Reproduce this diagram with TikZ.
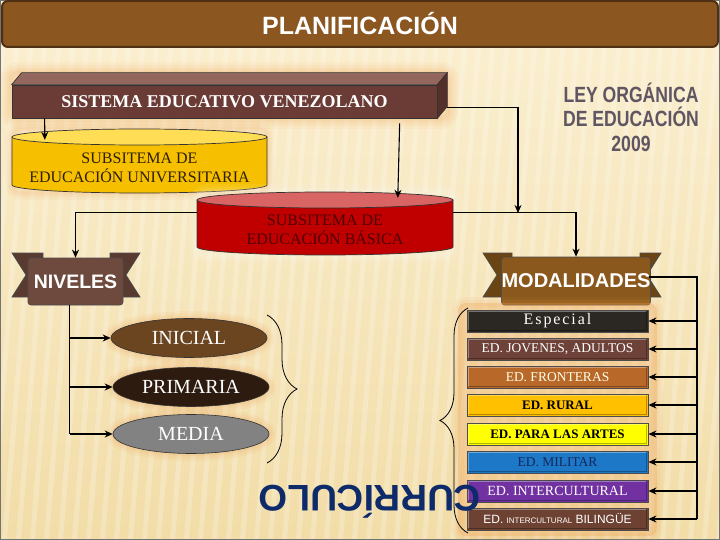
\documentclass[tikz,border=0pt]{standalone}
\usepackage{fontspec}
\setmainfont{Liberation Serif}
\newfontfamily\sansf{Liberation Sans}
\usetikzlibrary{shapes.geometric,arrows.meta,decorations.pathreplacing,calc}
\definecolor{bgtop}{HTML}{FBF0D2}
\definecolor{bgbot}{HTML}{F2DDA8}
\definecolor{titlec}{HTML}{8B5620}
\definecolor{titleb}{HTML}{4E3014}
\definecolor{sisfront}{HTML}{6B3B35}
\definecolor{sistop}{HTML}{93675D}
\definecolor{sisside}{HTML}{54302A}
\definecolor{gold}{HTML}{F6C000}
\definecolor{goldtop}{HTML}{FFDD55}
\definecolor{unitxt}{HTML}{2E1E05}
\definecolor{redb}{HTML}{C00000}
\definecolor{redtop}{HTML}{D86464}
\definecolor{redtxt}{HTML}{4E0000}
\definecolor{leyc}{HTML}{5F5563}
\definecolor{nivf}{HTML}{6E4A3E}
\definecolor{nivt}{HTML}{583A30}
\definecolor{modf}{HTML}{8A581C}
\definecolor{modt}{HTML}{6B4414}
\definecolor{inic}{HTML}{6B4420}
\definecolor{prim}{HTML}{2C1B0E}
\definecolor{medc}{HTML}{828282}
\definecolor{glowc}{HTML}{F0A050}
\definecolor{b1}{HTML}{2B2722}
\definecolor{b2}{HTML}{6E4238}
\definecolor{b3}{HTML}{B8692A}
\definecolor{b4}{HTML}{FFC000}
\definecolor{b5}{HTML}{FFFF00}
\definecolor{b6}{HTML}{1E78C8}
\definecolor{b7}{HTML}{7231A0}
\definecolor{b8}{HTML}{6E4232}
\definecolor{navy}{HTML}{0D2A6B}
\definecolor{miltxt}{HTML}{14285A}
\begin{document}
\begin{tikzpicture}[x=1pt,y=-1pt,
 arr/.style={-{Stealth[length=8pt,width=7pt]}, line width=1.1pt},
 ln/.style={line width=1.1pt},
 edge3d/.style={draw=black!80, line width=0.7pt},
 bar/.style={rectangle, minimum width=181pt, minimum height=22pt, inner sep=0pt, draw=black!70, line width=0.8pt},
 lvl/.style={ellipse, inner sep=0pt, minimum width=156pt, minimum height=39pt, draw=black!80, line width=0.6pt, text=white, font=\fontsize{20}{20}\selectfont},
 ribtxt/.style={text=white, font=\sansf\bfseries\fontsize{20}{20}\selectfont},
]
\useasboundingbox (0,0) rectangle (720,540);
% background
\shade[top color=bgtop, bottom color=bgbot] (0,0) rectangle (720,540);
\foreach \x in {0,14,...,770} \fill[white,opacity=0.22] (\x,48) -- (\x+5,48) -- (\x-35,540) -- (\x-40,540) -- cycle;
\draw[line width=2.5pt, color=black!55] (0,0) rectangle (720,540);

% title
\node[rectangle, rounded corners=6pt, fill=titlec, draw=titleb, line width=2pt, minimum width=716pt, minimum height=46pt, text=white, font=\sansf\bfseries\fontsize{25}{25}\selectfont] (title) at (360,24) {PLANIFICACIÓN};

% SISTEMA box with glow
\foreach \w/\o in {22/0.07,16/0.08,10/0.1,5/0.12} \draw[glowc, line width=\w pt, opacity=\o, rounded corners=6pt] (12,73) rectangle (447,118);
\node[rectangle, fill=sisfront, edge3d, minimum width=425pt, minimum height=33pt, inner sep=0pt, text=white, font=\bfseries\fontsize{18}{18}\selectfont] (sis) at (224.5,101.5) {SISTEMA EDUCATIVO VENEZOLANO};
\filldraw[fill=sistop, edge3d] (sis.north west) -- ++(10,-12) -- ($(sis.north east)+(10,-12)$) -- (sis.north east) -- cycle;
\filldraw[fill=sisside, edge3d] (sis.north east) -- ++(10,-12) -- ($(sis.south east)+(10,-12)$) -- (sis.south east) -- cycle;

% yellow cylinder
\foreach \w/\o in {14/0.06,9/0.08,4/0.1} \draw[glowc, line width=\w pt, opacity=\o, rounded corners=10pt] (12,129) rectangle (267,193);
\filldraw[fill=gold, edge3d] (12,137) -- (12,185) arc[start angle=180, end angle=0, x radius=127.5, y radius=8] -- (267,137) -- cycle;
\filldraw[fill=goldtop, edge3d] (139.5,137) ellipse [x radius=127.5, y radius=8];
\node[minimum width=255pt, minimum height=48pt, inner sep=0pt] (uni) at (139.5,161) {};
\node[text=unitxt, font=\fontsize{16}{19.5}\selectfont, align=center] (unitext) at (139.5,168) {SUBSITEMA DE\\EDUCACIÓN UNIVERSITARIA};

% red cylinder
\foreach \w/\o in {16/0.07,10/0.09,5/0.1} \draw[white, line width=\w pt, opacity=\o, rounded corners=10pt] (197,192) rectangle (453,255);
\filldraw[fill=redb, edge3d] (197,200) -- (197,247) arc[start angle=180, end angle=0, x radius=128, y radius=8] -- (453,200) -- cycle;
\filldraw[fill=redtop, edge3d] (325,200) ellipse [x radius=128, y radius=8];
\node[minimum width=256pt, minimum height=47pt, inner sep=0pt] (bas) at (325,223.5) {};
\node[text=redtxt, font=\fontsize{16}{19.5}\selectfont, align=center] (bastext) at (325,230) {SUBSITEMA DE\\EDUCACIÓN BÁSICA};

% LEY ORGANICA
\node[text=leyc, font=\sansf\bfseries\fontsize{22}{24.5}\selectfont, align=center, xscale=0.8] (ley) at (631,117) {LEY ORGÁNICA\\DE EDUCACIÓN\\2009};

% NIVELES ribbon
\filldraw[fill=nivt, draw=black!70, line width=0.7pt] (12,253) -- (43,253) -- (43,297) -- (12,297) -- (26,275) -- cycle;
\filldraw[fill=nivt, draw=black!70, line width=0.7pt] (110,253) -- (140,253) -- (126,275) -- (140,297) -- (110,297) -- cycle;
\node[rectangle, rounded corners=3pt, fill=nivf, draw=black!70, line width=0.7pt, minimum width=95pt, minimum height=47pt, inner sep=0pt, ribtxt, font=\sansf\bfseries\fontsize{19.5}{19.5}\selectfont] (niv) at (75.5,281.5) {NIVELES};

% MODALIDADES ribbon
\filldraw[fill=modt, draw=black!70, line width=0.7pt] (483,253) -- (512,253) -- (512,297) -- (483,297) -- (497,275) -- cycle;
\filldraw[fill=modt, draw=black!70, line width=0.7pt] (640,253) -- (661,253) -- (647,275) -- (661,297) -- (640,297) -- cycle;
\node[rectangle, rounded corners=3pt, fill=modf, draw=black!70, line width=0.7pt, minimum width=138pt, minimum height=48pt, inner sep=0pt, ribtxt] (mod) at (576,281) {MODALIDADES};

% top connectors
\coordinate (j1) at (518,213);
\draw[arr] ($(sis.south west)+(33,0)$) -- ($(uni.north west)+(33,3)$);
\draw[arr] ($(sis.south west)+(388,5)$) -- ($(bas.north west)+(201,-2)$);
\draw[arr] ($(sis.south east)+(10,-11)$) -| (j1);
\draw[arr] ($(bas.north west)+(0,13)$) -| (niv.north);
\draw[arr] ($(bas.north east)+(0,13)$) -| (mod.north);

% levels
\foreach \cx/\cy in {189/338,191/387,191/434} \foreach \w/\o in {14/0.08,9/0.1,4/0.12} \draw[glowc, line width=\w pt, opacity=\o] (\cx,\cy) ellipse [x radius=78, y radius=20];
\node[lvl, fill=inic] (ini) at (189,338) {INICIAL};
\node[lvl, fill=prim] (pri) at (191,387) {PRIMARIA};
\node[lvl, fill=medc] (med) at (191,434) {MEDIA};
\coordinate (nv) at ($(niv.south west)+(42,0)$);
\draw[ln] (nv) -- (nv |- med.west);
\foreach \n in {ini,pri,med} \draw[arr] (nv |- \n.west) -- (\n.west);
\draw[line width=0.8pt, decorate, decoration={brace, amplitude=30pt}] (267,315) -- (267,463);

% modalities
\fill[glowc, opacity=0.3, rounded corners=8pt] (458,303) rectangle (657,536);
\foreach \w/\o in {12/0.07,6/0.09} \draw[glowc, line width=\w pt, opacity=\o, rounded corners=8pt] (458,303) rectangle (657,536);
\draw[line width=0.8pt, decorate, decoration={brace, amplitude=28pt}] (468,533) -- (468,308);
\node[bar, fill=b1, text=white, font=\fontsize{16}{16}\selectfont\addfontfeature{LetterSpace=12}] (m1) at (557.5,321) {Especial};
\node[bar, fill=b2, text=white, font=\fontsize{13.5}{13.5}\selectfont] (m2) at (557.5,349) {ED. JOVENES, ADULTOS};
\node[bar, fill=b3, text=white!90!yellow, font=\fontsize{13.5}{13.5}\selectfont] (m3) at (557.5,377) {ED. FRONTERAS};
\node[bar, fill=b4, text=black, font=\bfseries\fontsize{13}{13}\selectfont] (m4) at (557.5,405) {ED. RURAL};
\node[bar, fill=b5, text=black, font=\bfseries\fontsize{13}{13}\selectfont] (m5) at (557.5,434) {ED. PARA LAS ARTES};
\node[bar, fill=b6, text=miltxt, font=\fontsize{13.5}{13.5}\selectfont] (m6) at (557.5,462) {ED. MILITAR};
\node[bar, fill=b7, text=white, font=\fontsize{14}{14}\selectfont] (m7) at (557.5,491) {ED. INTERCULTURAL};
\node[bar, fill=b8, text=white, font=\sansf\fontsize{12}{12}\selectfont] (m8) at (557.5,519) {ED. {\fontsize{8}{8}\selectfont INTERCULTURAL} BILINGÜE};
\foreach \m in {m1,m2,m3,m4,m5,m6,m7,m8} {
  \draw[white, opacity=0.35, line width=1pt] ($(\m.south west)+(2,-2)$) -- ($(\m.north west)+(2,2)$) -- ($(\m.north east)+(-2,2)$);
  \draw[black, opacity=0.3, line width=1pt] ($(\m.north east)+(-2,2)$) -- ($(\m.south east)+(-2,-2)$) -- ($(\m.south west)+(2,-2)$);
}
\coordinate (rr) at (697,277);
\draw[ln] ($(mod.east)+(-2,-4)$) -- (rr) -- (rr |- m8.east);
\foreach \m in {m1,m2,m3,m4,m5,m6,m7,m8} \draw[arr] (rr |- \m.east) -- (\m.east);

% curriculo
\node[rotate=180, text=navy, font=\sansf\bfseries\fontsize{37}{37}\selectfont] (cur) at (370,502) {CURRÍCULO};
\end{tikzpicture}
\end{document}
